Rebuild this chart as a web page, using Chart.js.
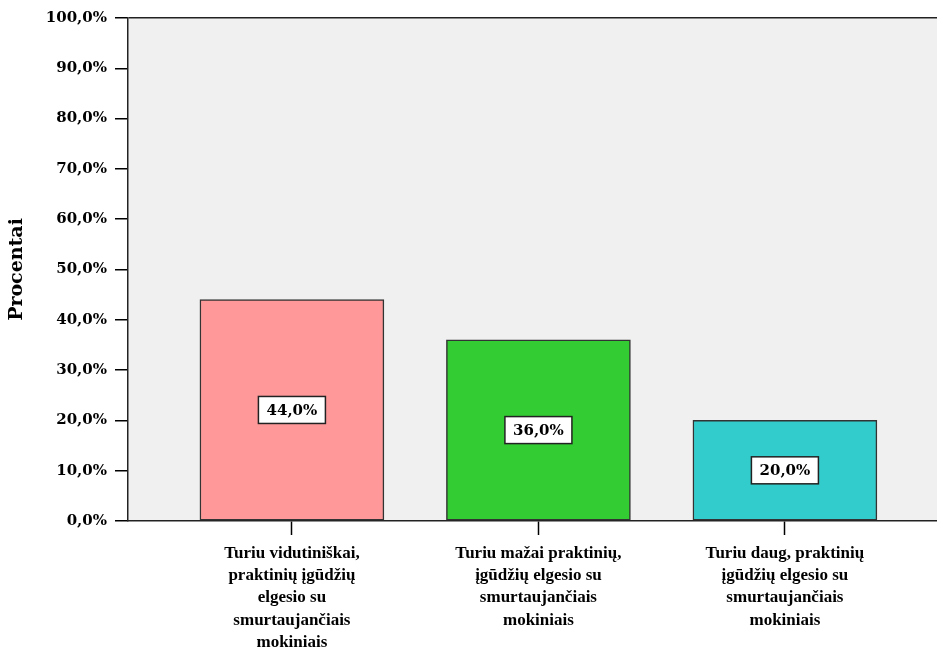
<!DOCTYPE html>
<html>
<head>
<meta charset="utf-8">
<script src="https://cdn.jsdelivr.net/npm/chart.js@4.4.1/dist/chart.umd.min.js"></script>
<style>
  html, body { margin: 0; padding: 0; background: #ffffff; }
  #wrap { width: 937px; height: 651px; }
</style>
</head>
<body>
<div id="wrap"><canvas id="c" width="937" height="651"></canvas></div>
<script>
const categories = [
  ["Turiu vidutiniškai,", "praktinių įgūdžių", "elgesio su", "smurtaujančiais", "mokiniais"],
  ["Turiu mažai praktinių,", "įgūdžių elgesio su", "smurtaujančiais", "mokiniais"],
  ["Turiu daug, praktinių", "įgūdžių elgesio su", "smurtaujančiais", "mokiniais"]
];
const values = [44.0, 36.0, 20.0];
const barColors = ["#ff9999", "#33cc33", "#33cccc"];
const yTickValues = [0, 10, 20, 30, 40, 50, 60, 70, 80, 90, 100];
const yTitle = "Procentai";

const fmt = v => v.toFixed(1).replace('.', ',') + '%';

const bgPlugin = {
  id: 'bg',
  beforeDraw(chart) {
    const { ctx, chartArea: a } = chart;
    ctx.save();
    ctx.fillStyle = '#f0f0f0';
    ctx.fillRect(a.left, a.top, a.right - a.left, a.bottom - a.top);
    ctx.restore();
  }
};

const labelPlugin = {
  id: 'boxLabels',
  afterDatasetsDraw(chart) {
    const { ctx } = chart;
    const meta = chart.getDatasetMeta(0);
    ctx.save();
    ctx.font = 'bold 15px "DejaVu Serif"';
    ctx.textAlign = 'center';
    ctx.textBaseline = 'middle';
    meta.data.forEach((bar, i) => {
      const cx = bar.x;
      const cy = (bar.y + bar.base) / 2;
      const w = 67, h = 27;
      ctx.fillStyle = '#ffffff';
      ctx.fillRect(cx - w / 2, cy - h / 2, w, h);
      ctx.lineWidth = 1.5;
      ctx.strokeStyle = '#222';
      ctx.strokeRect(cx - w / 2, cy - h / 2, w, h);
      ctx.fillStyle = '#000';
      ctx.fillText(fmt(values[i]), cx, cy + 1);
    });
    ctx.restore();
  }
};

new Chart(document.getElementById('c'), {
  type: 'bar',
  data: {
    datasets: [{
      data: values.map((v, i) => ({ x: i, y: v })),
      backgroundColor: barColors,
      borderColor: '#333',
      borderWidth: 1.5,
      borderSkipped: false,
      barThickness: 184
    }]
  },
  options: {
    responsive: false,
    animation: false,
    devicePixelRatio: 1,
    layout: { padding: { top: 18, right: 0, left: 0, bottom: 0 } },
    plugins: { legend: { display: false }, tooltip: { enabled: false } },
    scales: {
      x: {
        type: 'linear',
        offset: false,
        min: -0.665,
        max: 2.617,
        afterBuildTicks(scale) { scale.ticks = categories.map((c, i) => ({ value: i })); },
        afterFit(scale) { scale.height = 130; },
        ticks: {
          autoSkip: false,
          maxRotation: 0,
          minRotation: 0,
          padding: 7,
          color: '#000',
          font: { family: '"Liberation Serif"', size: 17, weight: 'bold', lineHeight: '22.4px' },
          callback: (v) => categories[Math.round(v)]
        },
        grid: { display: true, offset: false, drawOnChartArea: false, tickLength: 14, tickColor: '#000', tickWidth: 1.5 },
        border: { display: true, color: '#222', width: 1.5 }
      },
      y: {
        min: 0,
        max: 100,
        afterBuildTicks(scale) { scale.ticks = yTickValues.map(v => ({ value: v })); },
        afterFit(scale) { scale.width = 128; },
        ticks: {
          padding: 8,
          color: '#000',
          font: { family: '"DejaVu Serif"', size: 15, weight: 'bold' },
          callback: (v) => fmt(v)
        },
        grid: {
          display: true,
          drawOnChartArea: true,
          color: (c) => (c.tick && c.tick.value === 100) ? '#222' : 'rgba(0,0,0,0)',
          lineWidth: 1.5,
          tickLength: 13,
          tickColor: '#000',
          tickWidth: 1.5
        },
        border: { display: true, color: '#222', width: 1.5 },
        title: {
          display: true,
          text: yTitle,
          color: '#000',
          font: { family: '"DejaVu Serif"', size: 19, weight: 'bold' },
          padding: { top: 6, bottom: 0 }
        }
      }
    }
  },
  plugins: [bgPlugin, labelPlugin]
});
</script>
</body>
</html>
